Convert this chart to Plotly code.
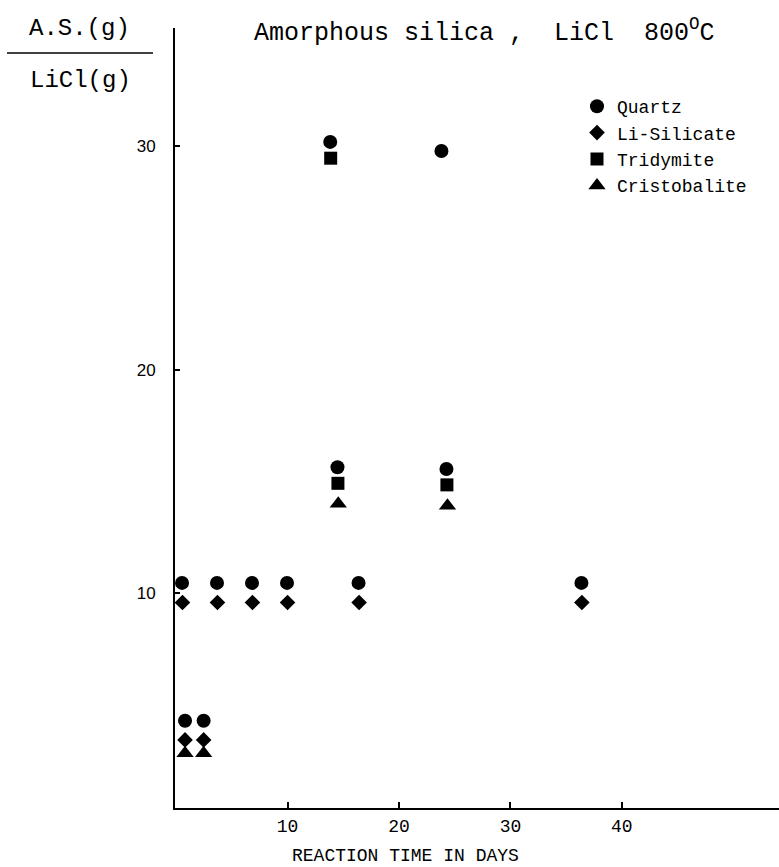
import plotly.graph_objects as go

# ---- data ----
quartz_x = [0.8, 2.47, 0.53, 3.67, 6.81, 9.95, 16.37, 36.37, 14.48, 24.26, 13.83, 23.81]
quartz_y = [4.28, 4.28, 10.45, 10.45, 10.45, 10.45, 10.45, 10.45, 15.63, 15.55, 30.2, 29.79]

lisil_x = [0.8, 2.47, 0.57, 3.71, 6.85, 10.0, 16.42, 36.41]
lisil_y = [3.42, 3.42, 9.57, 9.57, 9.57, 9.57, 9.57, 9.57]

tridy_x = [13.87, 14.52, 24.3]
tridy_y = [29.47, 14.91, 14.84]

cristo_x = [0.8, 2.47, 14.55, 24.35]
cristo_y = [2.82, 2.82, 13.99, 13.9]

x_ticks = [10, 20, 30, 40]
y_ticks = [10, 20, 30]

# ---- layout geometry ----
W, H = 779, 867
ML, MR, MT, MB = 175, 0, 28, 59
PW, PH = W - ML - MR, H - MT - MB


def px(xp):
    return (xp - ML) / PW


def py(yp):
    return (H - MB - yp) / PH


MONO = "Liberation Mono"

fig = go.Figure()
fig.add_trace(go.Scatter(x=quartz_x, y=quartz_y, mode="markers", name="Quartz",
                         marker=dict(symbol="circle", size=14, color="black")))
fig.add_trace(go.Scatter(x=lisil_x, y=lisil_y, mode="markers", name="Li-Silicate",
                         marker=dict(symbol="diamond", size=12, color="black")))
fig.add_trace(go.Scatter(x=tridy_x, y=tridy_y, mode="markers", name="Tridymite",
                         marker=dict(symbol="square", size=13, color="black")))
fig.add_trace(go.Scatter(x=cristo_x, y=cristo_y, mode="markers", name="Cristobalite",
                         marker=dict(symbol="triangle-up", size=15, color="black")))

fig.update_layout(
    width=W, height=H,
    margin=dict(l=ML, r=MR, t=MT, b=MB, pad=0),
    paper_bgcolor="white", plot_bgcolor="white",
    showlegend=True,
    legend=dict(x=px(577), y=py(88), xanchor="left", yanchor="top",
                font=dict(family=MONO, size=18, color="black"),
                bgcolor="rgba(0,0,0,0)", tracegroupgap=0, itemwidth=30),
    xaxis=dict(range=[-0.1, 54.1], showgrid=False, zeroline=False,
               showline=True, linecolor="black", linewidth=2,
               ticks="inside", ticklen=6, tickwidth=2, tickcolor="black",
               tickvals=x_ticks, ticktext=[str(v) for v in x_ticks],
               tickfont=dict(family=MONO, size=18, color="black")),
    yaxis=dict(range=[0.37, 35.3], showgrid=False, zeroline=False,
               showline=True, linecolor="black", linewidth=2,
               ticks="inside", ticklen=5, tickwidth=2, tickcolor="black",
               tickvals=y_ticks, ticktext=[str(v) for v in y_ticks],
               ticklabelstandoff=14,
               tickfont=dict(family="Liberation Sans", size=17, color="black")),
)

annots = [
    dict(text="Amorphous silica ,  LiCl  800<sup>O</sup>C", x=px(252), y=py(31),
         xanchor="left", yanchor="middle", font=dict(family=MONO, size=25)),
    dict(text="A.S.(g)", x=px(79), y=py(29), xanchor="center", yanchor="middle",
         font=dict(family=MONO, size=24)),
    dict(text="LiCl(g)", x=px(80), y=py(81), xanchor="center", yanchor="middle",
         font=dict(family=MONO, size=24)),
    dict(text="REACTION TIME IN DAYS", x=px(405), y=py(856), xanchor="center",
         yanchor="middle", font=dict(family=MONO, size=18)),
]
for a in annots:
    a.update(xref="paper", yref="paper", showarrow=False)
    a["font"]["color"] = "black"
    fig.add_annotation(**a)

fig.add_shape(type="line", xref="paper", yref="paper",
              x0=px(7), x1=px(153), y0=py(53), y1=py(53),
              line=dict(color="black", width=1.5))

fig.write_html("out.html")
